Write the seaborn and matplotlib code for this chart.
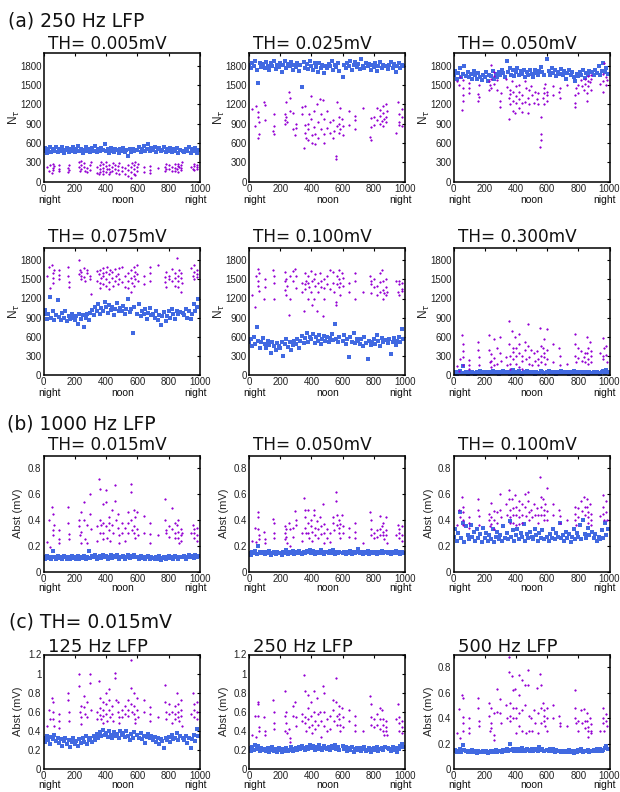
import matplotlib
matplotlib.use("Agg")
import matplotlib.pyplot as plt
import seaborn as sns
from matplotlib.ticker import FuncFormatter

nan = float("nan")

# ---------------- data ----------------
# time index of the dense (blue) series
BLUE_T = list(range(0, 1000, 10))
# time index of the sparse (purple) series, grouped in recording columns
PURPLE_T = [[22], [38, 42], [56, 58, 60, 62, 64], [98, 100, 102], [157, 159, 161, 163],
            [228, 230, 232], [238, 240, 242], [258, 260, 262], [279, 281], [298, 300, 302],
            [339, 341], [355, 358, 360, 362, 365], [377, 379, 381, 383], [397, 399, 401, 403],
            [417, 419, 421, 423], [438, 440, 442], [458, 460, 462], [477, 479, 481, 483],
            [499, 501], [519, 521], [538, 540, 542], [557, 559, 561, 563],
            [576, 578, 580, 582, 584], [598, 600, 602], [639, 641], [678, 680, 682], [730],
            [777, 779, 781, 783], [799, 801], [819, 821], [838, 840, 842],
            [855, 858, 860, 862, 865], [877, 879, 881, 883], [940], [957, 959, 961, 963],
            [978, 980, 982]]

# (a) 250 Hz LFP, N_tau
A1_BLUE = [470, 520, 450, 500, 540, 460, 510, 480, 530, 455,
           500, 470, 540, 445, 490, 520, 460, 505, 480, 535,
           465, 500, 545, 470, 510, 450, 495, 530, 475, 505,
           460, 520, 480, 545, 455, 500, 470, 515, 490, 580,
           470, 505, 450, 525, 480, 460, 510, 490, 445, 500,
           470, 525, 455, 490, 400, 510, 465, 500, 480, nan,
           490, 530, 460, 510, 545, 475, 500, 590, 470, 520,
           485, 540, 460, 505, 525, 470, 495, 530, 455, 505,
           480, 515, 460, 500, 470, 525, 450, 495, nan, 480,
           460, 510, 475, 540, 450, 500, 470, 520, 440, 490]
A1_PURPLE = [[230], [160, 260], [140, 210, 280, 180, 240], [200, 250, 160], [150, 210, 260, 180],
             [220, 300, 170], [260, 190, 320], [230, 290, 170], [210, 150], [250, 180, 300],
             [130, 230], [110, 190, 260, 150, 300], [120, 210, 170, 270], [240, 150, 300, 190],
             [110, 200, 260, 150], [230, 170, 290], [200, 260, 140], [180, 240, 110, 290],
             [160, 230], [120, 210], [90, 180, 260], [50, 150, 220, 290],
             [120, 190, 250, 100, 300], [170, 230, 280], [150, 220], [180, 240, 130], [210],
             [160, 230, 190, 270], [200, 250], [170, 230], [210, 270, 160],
             [190, 240, 150, 280, 220], [180, 260, 210, 300], [230], [200, 270, 180, 240],
             [220, 260, 190]]

A2_BLUE = [1820, 1760, 1850, 1790, 1870, 1740, 1530, 1850, 1780, 1830,
           1760, 1860, 1800, 1730, 1840, 1790, 1880, 1750, 1820, 1780,
           1850, 1700, 1810, 1870, 1760, 1830, 1790, 1860, 1740, 1820,
           1780, 1850, 1720, 1810, 1470, 1860, 1770, 1830, 1750, 1880,
           1800, 1740, 1850, 1780, 1700, 1840, 1760, 1820, 1690, 1800,
           1760, 1830, 1790, 1870, 1740, 1810, 1780, 1850, 1720, nan,
           1620, 1810, 1760, 1850, 1790, 1880, 1740, 1820, 1860, 1780,
           1830, 1750, 1900, 1800, 1760, 1850, 1790, 1830, 1740, 1810,
           1780, 1850, 1720, 1800, 1860, 1760, 1820, 1790, nan, 1750,
           1810, 1860, 1770, 1830, 1700, 1800, 1850, 1760, 1820, 1790]
A2_PURPLE = [[1130], [860, 1180], [1000, 680, 1080, 740, 930], [1240, 960, 1190],
             [780, 1050, 870, 740], [960, 1050, 890], [1230, 1000, 920], [1390, 1100, 1300],
             [1060, 810], [730, 900, 830], [1050, 1160], [520, 880, 760, 1180, 680],
             [900, 650, 820, 1050], [1330, 980, 720, 600], [1100, 850, 740, 580],
             [1200, 920, 680], [1290, 820, 1050], [1270, 740, 980, 600], [1100, 840],
             [920, 760], [680, 960, 780], [400, 350, 860, 1240], [900, 760, 1000, 1150, 820],
             [980, 870, 720], [1090, 880], [820, 960, 1020], [1150], [700, 850, 990, 640],
             [1000, 880], [1150, 960], [1020, 890, 1110], [940, 1180, 870, 1060, 980],
             [1200, 1000, 920, 1090], [750], [1230, 930, 1050, 880], [1000, 1130, 860]]

A3_BLUE = [1650, 1720, 1600, 1690, 1760, 1630, 1680, 1800, 1640, 1700,
           1620, 1680, 1590, 1720, 1650, 1600, 1690, 1630, 1580, 1660,
           1620, 1700, 1570, 1660, 1640, 1720, 1600, 1680, 1630, 1710,
           1650, 1740, 1690, 1620, 1880, 1700, 1760, 1660, 1730, 1640,
           1700, 1760, 1650, 1720, 1680, 1740, 1620, 1700, 1660, 1730,
           1680, 1620, 1740, 1690, 1650, 1720, 1780, 1700, 1660, nan,
           1900, 1720, 1650, 1760, 1690, 1730, 1640, 1710, 1680, 1750,
           1660, 1720, 1600, 1690, 1740, 1650, 1700, 1620, 1560, 1680,
           1640, 1700, 1660, 1730, 1610, 1690, 1650, 1720, nan, 1700,
           1660, 1740, 1690, 1800, 1650, 1720, 1850, 1700, 1760, 1680]
A3_PURPLE = [[1560], [1500, 1620], [1120, 1260, 1350, 1580, 1460], [1450, 1540, 1380],
             [1250, 1360, 1310, 1500], [1420, 1560, 1500], [1600, 1460, 1820],
             [1640, 1520, 1700], [1420, 1580], [1160, 1260, 1380], [1600, 1470],
             [980, 1300, 1420, 1200, 1360], [1560, 1100, 1250, 1400], [1060, 1330, 1480, 1220],
             [1400, 1290, 1150, 1500], [1080, 1350, 1220], [1560, 1240, 1450],
             [1060, 1300, 1420, 1200], [1480, 1350], [1220, 1400], [1280, 1380, 1200],
             [530, 650, 740, 1000], [1300, 1450, 1200, 1380, 1520], [1400, 1250, 1350],
             [1480, 1350], [1400, 1300, 1460], [1500], [1160, 1220, 1340, 1450], [1380, 1500],
             [1580, 1480], [1420, 1520, 1600], [1260, 1380, 1480, 1560, 1640],
             [1550, 1420, 1600, 1660], [1520], [1400, 1560, 1680, 1840], [1500, 1620, 1580]]

A4_BLUE = [950, 1020, 880, 960, 1230, 900, 1000, 870, 940, 1180,
           910, 860, 970, 890, 1000, 840, 930, 880, 960, 900,
           860, 920, 800, 950, 880, 940, 760, 900, 960, 870,
           980, 1020, 940, 1070, 1000, 1110, 960, 1050, 1000, 1150,
           1060, 980, 1100, 1020, 1070, 940, 1040, 1130, 1000, 1050,
           1010, 1080, 960, 1040, 1200, 990, 1030, 660, 1060, nan,
           960, 1120, 920, 1000, 950, 1030, 880, 980, 1050, 940,
           960, 900, 1010, 870, 940, 780, 920, 990, 850, 930,
           1000, 900, 1040, 960, 880, 1010, 950, 990, nan, 980,
           940, 1030, 900, 1010, 880, 960, 1120, 1000, 1060, 1200]
A4_PURPLE = [[1560], [1690, 1360], [1720, 1520, 1600, 1450, 1640], [1650, 1570, 1500],
             [1700, 1560, 1460, 1380], [1800, 1580, 1650], [1500, 1620, 1560],
             [1680, 1540, 1470], [1600, 1650], [1560, 1500, 1270], [1630, 1480],
             [1580, 1450, 1640, 1370, 1520], [1680, 1560, 1430, 1600], [1500, 1620, 1400, 1700],
             [1580, 1460, 1350, 1650], [1520, 1620, 1400], [1660, 1480, 1560],
             [1590, 1420, 1680, 1500], [1700, 1460], [1560, 1380], [1600, 1480, 1360],
             [1520, 1300, 1640, 1440], [1560, 1700, 1400, 1620, 1500], [1730, 1580, 1480],
             [1560, 1420], [1700, 1600, 1480], [1720], [1540, 1460, 1620, 1380], [1560, 1500],
             [1660, 1480], [1600, 1400, 1520], [1830, 1480, 1380, 1560, 1640],
             [1520, 1300, 1600, 1440], [1680], [1560, 1720, 1620, 1500], [1580, 1650, 1530]]

A5_BLUE = [520, 560, 450, 600, 490, 760, 540, 430, 510, 580,
           480, 420, 530, 470, 340, 510, 450, 390, 500, 460,
           430, 520, 300, 480, 560, 440, 510, 390, 470, 530,
           490, 570, 430, 540, 610, 500, 580, 660, 520, 600,
           560, 640, 500, 590, 530, 620, 480, 570, 610, 540,
           600, 520, 580, 650, 550, 800, 560, 510, 590, nan,
           540, 620, 480, 560, 280, 600, 520, 660, 500, 570,
           530, 480, 560, 450, 590, 500, 250, 540, 470, 520,
           560, 490, 620, 530, 460, 580, 510, 550, nan, 500,
           560, 330, 520, 580, 470, 540, 600, 510, 720, 560]
A5_PURPLE = [[1250], [1070, 1560], [1660, 1400, 1480, 1320, 1600], [1200, 1500, 1380],
             [1650, 1200, 1440, 1560], [1620, 1330, 1480], [1510, 1250, 1400],
             [940, 1560, 1200], [1630, 1480], [1660, 1360, 1550], [1440, 1300],
             [1000, 1420, 1600, 1350, 1480], [1450, 1200, 1560, 1380], [1630, 1300, 1480, 1100],
             [1500, 1200, 1400, 1580], [1000, 1450, 1300], [1600, 1380, 1480],
             [920, 1360, 1500, 1200], [1420, 1560], [1650, 1350], [1620, 1440, 1300],
             [1100, 1150, 1420, 1560], [1650, 1380, 1500, 1250, 1450], [1600, 1400, 1520],
             [1300, 1450], [1600, 1480, 1200], [1300], [1550, 1420, 1280, 1480], [1500, 1380],
             [1250, 1400], [1600, 1460, 1300], [1650, 1340, 1200, 1480, 1280],
             [1500, 1380, 1250, 1300], [1480], [1300, 1420, 1480, 1260], [1350, 1450, 1320]]

A6_BLUE = [30, 50, 20, 40, 60, 25, 140, 35, 45, 20,
           40, 25, 50, 30, 20, 45, 35, 55, 25, 40,
           30, 50, 20, 40, 35, 55, 25, 45, 30, 20,
           40, 30, 55, 25, 45, 35, 20, 50, 80, 30,
           40, 25, 55, 35, 20, 45, 30, 70, 25, 40,
           30, 50, 20, 45, 35, 25, 55, 40, 30, nan,
           40, 55, 25, 45, 30, 50, 20, 40, 35, 55,
           25, 45, 30, 50, 20, 40, 35, 55, 25, 45,
           30, 50, 40, 25, 45, 35, 20, 40, nan, 30,
           45, 25, 50, 35, 20, 40, 55, 30, 80, 45]
A6_PURPLE = [[140], [60, 250], [620, 480, 280, 150, 380], [230, 150, 90], [520, 400, 280, 150],
             [630, 400, 200], [220, 330, 120], [560, 270, 150], [420, 180], [600, 340, 220],
             [290, 150], [840, 480, 300, 180, 90], [690, 360, 250, 420], [600, 430, 180, 300],
             [640, 350, 480, 120], [300, 220, 100], [520, 400, 250], [800, 450, 280, 180],
             [400, 150], [350, 220], [380, 250, 150], [730, 450, 300, 200],
             [420, 560, 280, 350, 180], [720, 400, 250], [480, 200], [420, 300, 150], [180],
             [640, 480, 300, 200], [420, 260], [380, 220], [280, 200, 350],
             [600, 350, 250, 180, 420], [520, 300, 200, 380], [350], [580, 300, 250, 420],
             [460, 320, 200]]

# (b) 1000 Hz LFP, Abst (mV)
B1_BLUE = [0.11, 0.10, 0.12, 0.105, 0.115, 0.10, 0.16, 0.11, 0.095, 0.12,
           0.105, 0.115, 0.10, 0.12, 0.11, 0.095, 0.115, 0.10, 0.12, 0.105,
           0.11, 0.095, 0.12, 0.10, 0.115, 0.105, 0.12, 0.095, 0.11, 0.16,
           0.105, 0.12, 0.11, 0.125, 0.10, 0.115, 0.12, 0.105, 0.13, 0.11,
           0.12, 0.10, 0.115, 0.125, 0.105, 0.12, 0.11, 0.13, 0.10, 0.115,
           0.11, 0.12, 0.10, 0.115, 0.125, 0.105, 0.12, 0.11, 0.13, nan,
           0.11, 0.10, 0.12, 0.105, 0.115, 0.095, 0.11, 0.12, 0.10, 0.115,
           0.105, 0.095, 0.11, 0.10, 0.12, 0.09, 0.105, 0.115, 0.10, 0.11,
           0.12, 0.105, 0.115, 0.10, 0.12, 0.11, 0.10, 0.115, nan, 0.11,
           0.12, 0.10, 0.115, 0.125, 0.11, 0.12, 0.105, 0.125, 0.115, 0.12]
B1_PURPLE = [[0.23], [0.40, 0.19], [0.50, 0.45, 0.32, 0.28, 0.36], [0.32, 0.25, 0.22],
             [0.50, 0.38, 0.29, 0.25], [0.40, 0.35, 0.28], [0.46, 0.31, 0.22], [0.54, 0.40, 0.25],
             [0.36, 0.22], [0.60, 0.45, 0.33], [0.35, 0.24], [0.72, 0.64, 0.40, 0.30, 0.36],
             [0.52, 0.38, 0.30, 0.25], [0.63, 0.54, 0.35, 0.26], [0.42, 0.32, 0.38, 0.24],
             [0.48, 0.36, 0.30], [0.67, 0.55, 0.40], [0.45, 0.34, 0.28, 0.22], [0.38, 0.30],
             [0.34, 0.24], [0.46, 0.38, 0.30], [0.68, 0.62, 0.40, 0.32],
             [0.48, 0.35, 0.30, 0.42, 0.26], [0.46, 0.33, 0.28], [0.43, 0.30], [0.38, 0.29, 0.22],
             [0.28], [0.56, 0.40, 0.32, 0.30], [0.35, 0.27], [0.49, 0.33], [0.38, 0.30, 0.26],
             [0.36, 0.31, 0.26, 0.40, 0.22], [0.33, 0.28, 0.24, 0.30], [0.30],
             [0.36, 0.30, 0.26, 0.33], [0.34, 0.28, 0.24]]

B2_BLUE = [0.145, 0.13, 0.155, 0.14, 0.16, 0.135, 0.20, 0.15, 0.14, 0.155,
           0.135, 0.15, 0.14, 0.16, 0.13, 0.145, 0.155, 0.135, 0.15, 0.14,
           0.145, 0.13, 0.155, 0.14, 0.17, 0.135, 0.15, 0.14, 0.16, 0.135,
           0.15, 0.14, 0.16, 0.145, 0.135, 0.155, 0.14, 0.16, 0.15, 0.17,
           0.145, 0.16, 0.135, 0.155, 0.15, 0.14, 0.165, 0.145, 0.135, 0.155,
           0.15, 0.14, 0.16, 0.145, 0.17, 0.135, 0.155, 0.14, 0.15, nan,
           0.14, 0.155, 0.135, 0.15, 0.145, 0.16, 0.135, 0.15, 0.14, 0.155,
           0.175, 0.14, 0.155, 0.135, 0.15, 0.14, 0.16, 0.135, 0.145, 0.15,
           0.14, 0.155, 0.135, 0.15, 0.145, 0.16, 0.14, 0.15, nan, 0.14,
           0.15, 0.135, 0.155, 0.145, 0.16, 0.14, 0.15, 0.135, 0.155, 0.145]
B2_PURPLE = [[0.24], [0.34, 0.23], [0.46, 0.42, 0.33, 0.28, 0.25], [0.31, 0.25, 0.22],
             [0.41, 0.38, 0.30, 0.26], [0.35, 0.30, 0.25], [0.33, 0.27, 0.22], [0.38, 0.33, 0.20],
             [0.34, 0.27], [0.47, 0.40, 0.36], [0.30, 0.24], [0.57, 0.48, 0.42, 0.34, 0.30],
             [0.48, 0.38, 0.30, 0.26], [0.40, 0.35, 0.31, 0.24], [0.48, 0.44, 0.34, 0.28],
             [0.39, 0.33, 0.26], [0.42, 0.35, 0.29], [0.52, 0.37, 0.30, 0.22], [0.33, 0.26],
             [0.30, 0.23], [0.42, 0.38, 0.32], [0.62, 0.55, 0.44, 0.36],
             [0.40, 0.34, 0.30, 0.37, 0.26], [0.44, 0.35, 0.30], [0.34, 0.27], [0.38, 0.31, 0.26],
             [0.22], [0.46, 0.40, 0.33, 0.28], [0.30, 0.26], [0.32, 0.27], [0.43, 0.33, 0.28],
             [0.35, 0.31, 0.28, 0.38, 0.25], [0.42, 0.32, 0.28, 0.22], [0.28],
             [0.36, 0.30, 0.26, 0.33], [0.35, 0.28, 0.24]]

B3_BLUE = [0.27, 0.33, 0.24, 0.30, 0.46, 0.26, 0.38, 0.23, 0.35, 0.28,
           0.25, 0.36, 0.27, 0.31, 0.24, 0.33, 0.26, 0.29, 0.23, 0.34,
           0.26, 0.30, 0.24, 0.28, 0.25, 0.33, 0.23, 0.27, 0.31, 0.25,
           0.28, 0.24, 0.35, 0.26, 0.30, 0.25, 0.39, 0.27, 0.32, 0.24,
           0.28, 0.33, 0.25, 0.30, 0.27, 0.37, 0.24, 0.29, 0.26, 0.31,
           0.27, 0.25, 0.33, 0.28, 0.24, 0.30, 0.26, 0.32, 0.25, nan,
           0.27, 0.24, 0.29, 0.26, 0.33, 0.25, 0.30, 0.27, 0.38, 0.26,
           0.28, 0.24, 0.31, 0.26, 0.29, 0.23, 0.27, 0.33, 0.25, 0.30,
           0.27, 0.36, 0.25, 0.40, 0.29, 0.26, 0.34, 0.28, nan, 0.31,
           0.26, 0.29, 0.24, 0.27, 0.25, 0.32, 0.26, 0.38, 0.28, 0.33]
B3_PURPLE = [[0.36], [0.48, 0.42], [0.58, 0.50, 0.46, 0.40, 0.36], [0.42, 0.38, 0.34],
             [0.56, 0.48, 0.43, 0.36], [0.45, 0.40, 0.35], [0.53, 0.42, 0.37], [0.47, 0.40, 0.33],
             [0.46, 0.38], [0.60, 0.48, 0.42], [0.52, 0.44], [0.63, 0.56, 0.48, 0.42, 0.38],
             [0.56, 0.49, 0.44, 0.38], [0.59, 0.50, 0.44, 0.36], [0.55, 0.48, 0.42, 0.37],
             [0.52, 0.44, 0.38], [0.60, 0.50, 0.43], [0.62, 0.55, 0.46, 0.40], [0.48, 0.42],
             [0.52, 0.44], [0.49, 0.44, 0.38], [0.73, 0.58, 0.50, 0.44],
             [0.56, 0.48, 0.44, 0.40, 0.52], [0.65, 0.47, 0.40], [0.52, 0.44], [0.48, 0.43, 0.38],
             [0.40], [0.50, 0.45, 0.40, 0.36], [0.49, 0.42], [0.55, 0.47], [0.58, 0.50, 0.44],
             [0.56, 0.50, 0.46, 0.42, 0.38], [0.52, 0.45, 0.40, 0.36], [0.43],
             [0.59, 0.50, 0.45, 0.40], [0.55, 0.46, 0.40]]

# (c) TH = 0.015 mV, Abst (mV)
C1_BLUE = [0.32, 0.28, 0.35, 0.30, 0.26, 0.34, 0.31, 0.36, 0.29, 0.33,
           0.27, 0.31, 0.24, 0.29, 0.33, 0.26, 0.30, 0.23, 0.28, 0.32,
           0.26, 0.29, 0.24, 0.31, 0.27, 0.33, 0.28, 0.35, 0.26, 0.30,
           0.32, 0.28, 0.35, 0.30, 0.37, 0.33, 0.39, 0.35, 0.41, 0.36,
           0.38, 0.34, 0.40, 0.36, 0.32, 0.39, 0.35, 0.37, 0.33, 0.40,
           0.36, 0.38, 0.34, 0.40, 0.35, 0.30, 0.37, 0.33, 0.39, nan,
           0.36, 0.33, 0.38, 0.31, 0.35, 0.27, 0.34, 0.37, 0.32, 0.35,
           0.30, 0.34, 0.28, 0.32, 0.26, 0.31, 0.29, 0.22, 0.33, 0.30,
           0.34, 0.28, 0.36, 0.31, 0.33, 0.38, 0.30, 0.35, nan, 0.32,
           0.30, 0.35, 0.27, 0.33, 0.22, 0.31, 0.36, 0.29, 0.42, 0.35]
C1_PURPLE = [[0.45], [0.62, 0.52], [0.74, 0.70, 0.60, 0.52, 0.45], [0.58, 0.50, 0.43],
             [0.80, 0.72, 0.60, 0.50], [1.00, 0.87, 0.60], [0.66, 0.55, 0.47], [0.76, 0.65, 0.58],
             [0.70, 0.55], [1.00, 0.90, 0.62], [0.60, 0.52], [0.92, 0.74, 0.64, 0.57, 0.52],
             [0.70, 0.62, 0.56, 0.48], [0.80, 0.68, 0.58, 0.50], [0.84, 0.72, 0.62, 0.55],
             [0.66, 0.58, 0.50], [1.01, 0.95, 0.72], [0.70, 0.60, 0.54, 0.48], [0.62, 0.55],
             [0.66, 0.58], [0.72, 0.62, 0.56], [1.14, 0.85, 0.68, 0.60],
             [0.80, 0.66, 0.58, 0.52, 0.48], [0.74, 0.62, 0.55], [0.72, 0.60], [0.65, 0.58, 0.50],
             [0.55], [0.88, 0.70, 0.60, 0.52], [0.68, 0.58], [0.60, 0.48], [0.66, 0.58, 0.52],
             [0.80, 0.68, 0.60, 0.55, 0.50], [0.72, 0.62, 0.56, 0.45], [0.58],
             [0.80, 0.68, 0.62, 0.55], [0.70, 0.60, 0.52]]

C2_BLUE = [0.22, 0.19, 0.23, 0.20, 0.25, 0.21, 0.24, 0.19, 0.22, 0.20,
           0.21, 0.19, 0.22, 0.18, 0.20, 0.23, 0.19, 0.21, 0.18, 0.22,
           0.20, 0.18, 0.21, 0.19, 0.22, 0.185, 0.20, 0.23, 0.19, 0.21,
           0.22, 0.20, 0.23, 0.21, 0.24, 0.22, 0.20, 0.23, 0.21, 0.25,
           0.22, 0.24, 0.20, 0.23, 0.21, 0.25, 0.22, 0.20, 0.24, 0.22,
           0.21, 0.23, 0.20, 0.24, 0.22, 0.25, 0.21, 0.23, 0.20, nan,
           0.24, 0.21, 0.23, 0.19, 0.22, 0.20, 0.23, 0.18, 0.21, 0.22,
           0.20, 0.22, 0.19, 0.21, 0.23, 0.19, 0.20, 0.22, 0.18, 0.21,
           0.22, 0.20, 0.23, 0.19, 0.21, 0.22, 0.20, 0.23, nan, 0.22,
           0.21, 0.19, 0.23, 0.20, 0.22, 0.18, 0.21, 0.24, 0.26, 0.23]
C2_PURPLE = [[0.36], [0.56, 0.34], [0.70, 0.68, 0.56, 0.44, 0.40], [0.54, 0.40, 0.36],
             [0.72, 0.60, 0.48, 0.42], [0.82, 0.56, 0.40], [0.60, 0.48, 0.38], [0.42, 0.32, 0.28],
             [0.66, 0.56], [0.70, 0.55, 0.45], [0.58, 0.50], [0.98, 0.82, 0.55, 0.48, 0.40],
             [0.78, 0.64, 0.52, 0.44], [0.70, 0.56, 0.46, 0.38], [0.82, 0.60, 0.50, 0.42],
             [0.74, 0.58, 0.46], [0.60, 0.50, 0.34], [0.87, 0.80, 0.60, 0.45], [0.52, 0.40],
             [0.56, 0.42], [0.72, 0.62, 0.50], [0.95, 0.70, 0.56, 0.46],
             [0.66, 0.58, 0.52, 0.46, 0.40], [0.64, 0.55, 0.44], [0.62, 0.50], [0.56, 0.46, 0.40],
             [0.40], [0.76, 0.68, 0.55, 0.46], [0.52, 0.44], [0.58, 0.46], [0.64, 0.52, 0.42],
             [0.62, 0.52, 0.46, 0.40, 0.36], [0.50, 0.44, 0.40, 0.36], [0.52],
             [0.68, 0.55, 0.48, 0.40], [0.50, 0.44, 0.38]]

C3_BLUE = [0.14, 0.15, 0.13, 0.145, 0.16, 0.135, 0.19, 0.15, 0.14, 0.13,
           0.145, 0.135, 0.15, 0.13, 0.14, 0.125, 0.145, 0.135, 0.13, 0.14,
           0.13, 0.14, 0.125, 0.135, 0.145, 0.13, 0.14, 0.15, 0.135, 0.14,
           0.145, 0.135, 0.15, 0.14, 0.16, 0.145, 0.20, 0.15, 0.16, 0.14,
           0.155, 0.145, 0.16, 0.14, 0.165, 0.15, 0.14, 0.16, 0.15, 0.145,
           0.155, 0.14, 0.16, 0.15, 0.145, 0.17, 0.15, 0.16, 0.14, nan,
           0.15, 0.145, 0.16, 0.14, 0.155, 0.135, 0.15, 0.14, 0.145, 0.135,
           0.14, 0.13, 0.145, 0.135, 0.15, 0.13, 0.14, 0.125, 0.145, 0.135,
           0.15, 0.14, 0.155, 0.135, 0.145, 0.14, 0.15, 0.13, nan, 0.145,
           0.15, 0.14, 0.155, 0.145, 0.16, 0.14, 0.15, 0.165, 0.18, 0.16]
C3_PURPLE = [[0.28], [0.47, 0.24], [0.58, 0.56, 0.41, 0.36, 0.30], [0.40, 0.32, 0.28],
             [0.56, 0.48, 0.38, 0.34], [0.52, 0.42, 0.30], [0.48, 0.36, 0.32], [0.44, 0.27, 0.23],
             [0.63, 0.45], [0.55, 0.44, 0.36], [0.50, 0.40], [0.88, 0.76, 0.52, 0.42, 0.38],
             [0.73, 0.62, 0.48, 0.40], [0.63, 0.48, 0.40, 0.28], [0.74, 0.58, 0.44, 0.34],
             [0.70, 0.46, 0.30], [0.66, 0.50, 0.28], [0.78, 0.66, 0.42, 0.30], [0.40, 0.30],
             [0.46, 0.36], [0.64, 0.44, 0.28], [0.75, 0.66, 0.48, 0.36],
             [0.52, 0.46, 0.42, 0.38, 0.34], [0.48, 0.40, 0.30], [0.50, 0.40], [0.42, 0.36, 0.34],
             [0.34], [0.62, 0.48, 0.40, 0.36], [0.38, 0.30], [0.46, 0.36], [0.47, 0.38, 0.32],
             [0.44, 0.38, 0.33, 0.30, 0.25], [0.40, 0.35, 0.30, 0.28], [0.30],
             [0.48, 0.40, 0.36, 0.30], [0.43, 0.38, 0.34]]

TITLES = ["TH= 0.005mV", "TH= 0.025mV", "TH= 0.050mV",
          "TH= 0.075mV", "TH= 0.100mV", "TH= 0.300mV",
          "TH= 0.015mV", "TH= 0.050mV", "TH= 0.100mV",
          "125 Hz LFP", "250 Hz LFP", "500 Hz LFP"]
GROUP_LABELS = ["(a) 250 Hz LFP", "(b) 1000 Hz LFP", "(c) TH= 0.015mV"]
X_TICKS = [0, 200, 400, 600, 800, 1000]
NT_TICKS = [0, 300, 600, 900, 1200, 1500, 1800]
AB_TICKS = [0, 0.2, 0.4, 0.6, 0.8]
AB_TICKS_C = [0, 0.2, 0.4, 0.6, 0.8, 1.0, 1.2]
DAY_LABELS = ["night", "noon", "night"]

BLUES = [A1_BLUE, A2_BLUE, A3_BLUE, A4_BLUE, A5_BLUE, A6_BLUE,
         B1_BLUE, B2_BLUE, B3_BLUE, C1_BLUE, C2_BLUE, C3_BLUE]
PURPLES = [A1_PURPLE, A2_PURPLE, A3_PURPLE, A4_PURPLE, A5_PURPLE, A6_PURPLE,
           B1_PURPLE, B2_PURPLE, B3_PURPLE, C1_PURPLE, C2_PURPLE, C3_PURPLE]

# ---------------- style ----------------
sns.set_theme(style="white")
plt.rcParams["font.family"] = ["Liberation Sans", "DejaVu Sans"]
plt.rcParams["axes.edgecolor"] = "black"
plt.rcParams["axes.linewidth"] = 1.1

BLUE_C = "#4169E1"
PURPLE_C = "#9400D3"

W, H = 620, 792
fig = plt.figure(figsize=(W / 100, H / 100), dpi=100)

COL_X = [(43.5, 156.5), (249, 156), (453.5, 156)]
ROW_Y = [(53, 181.5), (247.5, 375), (455.5, 571.5), (654.5, 769)]
TITLE_GAP = [3.5, 6, 5.5, 3]       # px between axes top and title baseline
DAY_OFF = [18.5, 18.5, 16.5, 16.5]   # px from axes bottom to day-label centre
YLAB_X = [-0.187, -0.192, -0.187]


def to_pt(px):
    return px * 0.72


for i in range(12):
    row, col = divmod(i, 3)
    left, width = COL_X[col]
    top, bottom = ROW_Y[row]
    ax = fig.add_axes([left / W, 1 - bottom / H, width / W, (bottom - top) / H])

    bx, by = [], []
    for t, v in zip(BLUE_T, BLUES[i]):
        bx.append(t)
        by.append(v)
    px_, py_ = [], []
    for tg, vg in zip(PURPLE_T, PURPLES[i]):
        for t, v in zip(tg, vg):
            px_.append(t)
            py_.append(v)

    sns.scatterplot(x=bx, y=by, ax=ax, marker="s", s=8, color=BLUE_C,
                    linewidth=0, legend=False, zorder=2)
    sns.scatterplot(x=px_, y=py_, ax=ax, marker="+", s=4.5, color=PURPLE_C,
                    linewidth=0.9, legend=False, zorder=3)

    ax.set_xlim(0, 1000)
    ax.set_xticks(X_TICKS)
    if row < 2:
        ax.set_ylim(0, 2000)
        ax.set_yticks(NT_TICKS)
        ax.set_ylabel(r"N$_{\tau}$", fontsize=8.5)
    elif row == 2:
        ax.set_ylim(0, 0.9)
        ax.set_yticks(AB_TICKS)
        ax.set_ylabel("Abst (mV)", fontsize=8)
    else:
        if col < 2:
            ax.set_ylim(0, 1.2)
            ax.set_yticks(AB_TICKS_C)
        else:
            ax.set_ylim(0, 0.9)
            ax.set_yticks(AB_TICKS)
        ax.set_ylabel("Abst (mV)", fontsize=8)
    ax.yaxis.label.set_va("center")
    ax.yaxis.set_label_coords(YLAB_X[col] if row < 2 else -0.16, 0.5)
    ax.set_xlabel("")

    fmt = FuncFormatter(lambda v, p: ("%g" % v))
    ax.xaxis.set_major_formatter(fmt)
    ax.yaxis.set_major_formatter(fmt)
    ax.tick_params(direction="in", top=True, right=True, length=2.5, width=0.8,
                   labelsize=7, pad=1.5, colors="black", labelcolor="#222222")
    for sp in ax.spines.values():
        sp.set_visible(True)
        sp.set_linewidth(1.1)
        sp.set_color("black")

    ax.annotate(TITLES[i], xy=(0, 1), xycoords="axes fraction",
                xytext=(to_pt(4), to_pt(TITLE_GAP[row])), textcoords="offset points",
                ha="left", va="baseline", fontsize=(13 if row == 3 else 12.2),
                family="DejaVu Sans", color="#111111")

    for frac, lab in zip([0.038, 0.503, 0.971], DAY_LABELS):
        ax.annotate(lab, xy=(frac, 0), xycoords="axes fraction",
                    xytext=(0, -to_pt(DAY_OFF[row])), textcoords="offset points",
                    ha="center", va="center", fontsize=7.5, color="#111111")

# group labels
for lab, (x, yb) in zip(GROUP_LABELS, [(8, 26.5), (6.5, 429.3), (9, 628)]):
    fig.text(x / W, 1 - yb / H, lab, ha="left", va="baseline", fontsize=13.5,
             family="DejaVu Sans", color="#111111")

fig.savefig("out.png", dpi=100)
